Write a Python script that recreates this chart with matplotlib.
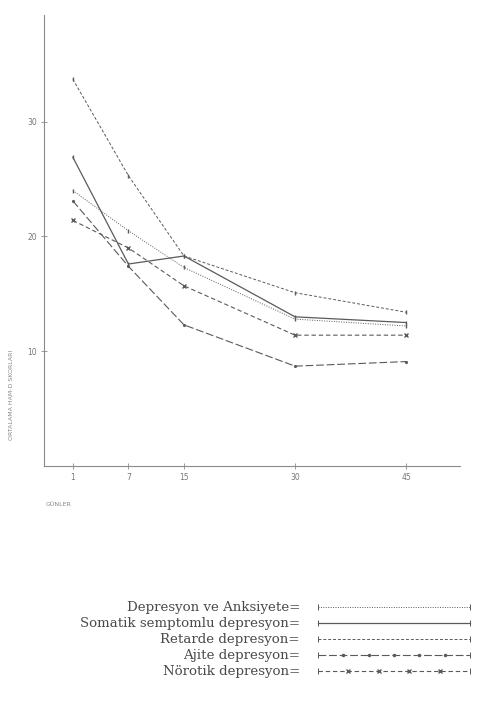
import numpy as np
import matplotlib
matplotlib.use("Agg")
import matplotlib.pyplot as plt

# days on the x axis (spaced like the original: 1,7,15 one unit apart, 30,45 two units)
days = ["1", "7", "15", "30", "45"]
xpos = [0, 1, 2, 4, 6]

anksiyete = [24.0, 20.5, 17.3, 12.8, 12.2]
somatik = [26.9, 17.6, 18.3, 13.0, 12.5]
retarde = [33.7, 25.3, 18.3, 15.1, 13.4]
ajite = [23.1, 17.4, 12.3, 8.7, 9.1]
norotik = [21.4, 19.0, 15.7, 11.4, 11.4]

names = ["Depresyon ve Anksiyete=", "Somatik semptomlu depresyon=",
         "Retarde depresyon=", "Ajite depresyon=", "Nörotik depresyon="]

col = "#5a5a5a"
styles = [
    dict(ls=(0, (1, 1.5)), lw=0.7, marker="|", ms=3),
    dict(ls="-", lw=0.9, marker="|", ms=3),
    dict(ls=(0, (3, 2)), lw=0.7, marker="|", ms=3),
    dict(ls=(0, (7, 2.5)), lw=0.8, marker=".", ms=2.5),
    dict(ls=(0, (4, 2.5)), lw=0.8, marker="x", ms=2.5),
]
series = [anksiyete, somatik, retarde, ajite, norotik]

fig = plt.figure(figsize=(4.81, 7.06), dpi=100)
ax = fig.add_axes([44/481, 1-466/706, (460-44)/481, (466-15)/706])

for s, st in zip(series, styles):
    ax.plot(xpos, s, color=col, **st)

ax.set_xlim(-0.52, 6.97)
ax.set_ylim(0, 39.3)
ax.spines["top"].set_visible(False)
ax.spines["right"].set_visible(False)
for sp in ["left", "bottom"]:
    ax.spines[sp].set_color("#8a8a8a")
    ax.spines[sp].set_linewidth(0.8)
ax.set_xticks(xpos)
ax.set_xticklabels(days)
ax.set_yticks([10, 20, 30])
ax.tick_params(direction="inout", length=4, width=0.6, colors="#8a8a8a",
               labelsize=5.5, labelcolor="#777777", pad=3)

fig.text(12/481, 1-395/706, "ORTALAMA HAM-D SKORLARI", rotation=90,
         fontsize=4.5, color="#888888", ha="center", va="center")
fig.text(46/481, 1-505/706, "GÜNLER", fontsize=4.5, color="#888888",
         ha="left", va="center")

# legend drawn by hand, like the printed key
lax = fig.add_axes([0, 0, 1, 1], facecolor="none")
lax.set_xlim(0, 481)
lax.set_ylim(706, 0)
lax.axis("off")
rows = [607, 623, 639, 655, 671]
nmarks = [0, 0, 0, 5, 4]
for name, st, y, nm in zip(names, styles, rows, nmarks):
    lax.text(300, y, name, ha="right", va="center", fontsize=9.6,
             family="DejaVu Serif", color="#4a4a4a")
    lax.plot([318, 470], [y, y], color=col, ls=st["ls"], lw=st["lw"])
    if nm:
        xs = np.linspace(318, 470, nm + 2)[1:-1]
        lax.plot(xs, [y]*len(xs), ls="none", marker=st["marker"],
                 ms=st["ms"] + 0.5, color=col)
    lax.plot([318, 470], [y, y], ls="none", marker="|", ms=5, color=col,
             mew=0.7)

fig.savefig("out.png", dpi=100)
